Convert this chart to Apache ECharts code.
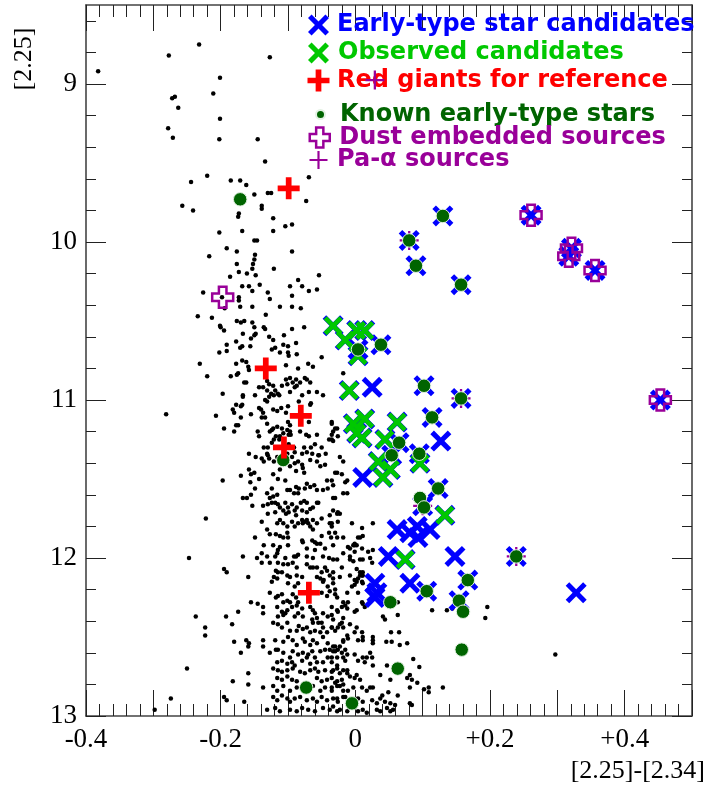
<!DOCTYPE html>
<html>
<head>
<meta charset="utf-8">
<script src="https://cdn.jsdelivr.net/npm/echarts@6/dist/echarts.min.js"></script>
<style>
html, body { margin: 0; padding: 0; background: #fff; }
#chart { width: 728px; height: 787px; }
</style>
</head>
<body>
<div id="chart"></div>
<script>
// Colour-magnitude diagram: [2.25]-[2.34] colour vs [2.25] magnitude
const fieldStars = [
[-0.382,8.92],[-0.232,8.75],[-0.277,8.82],[-0.127,8.83],[-0.201,8.96],[-0.211,9.06],[-0.272,9.09],[-0.268,9.08],[-0.263,9.15],[-0.201,9.22],
[-0.278,9.28],[-0.271,9.34],[-0.202,9.35],[-0.145,9.35],[-0.134,9.49],[-0.069,9.59],[-0.220,9.58],[-0.244,9.62],[-0.185,9.61],[-0.171,9.61],
[-0.162,9.64],[-0.150,9.70],[-0.130,9.69],[-0.125,9.69],[-0.073,9.74],[-0.257,9.77],[-0.241,9.80],[-0.139,9.77],[-0.139,9.79],[-0.173,9.82],
[-0.174,9.84],[-0.122,9.85],[-0.104,9.90],[-0.094,9.89],[-0.202,9.94],[-0.168,9.93],[-0.122,9.93],[-0.150,9.99],[-0.146,9.99],[-0.191,10.04],
[-0.217,10.09],[-0.176,10.06],[-0.149,10.08],[-0.094,10.06],[-0.150,10.11],[-0.152,10.14],[-0.153,10.17],[-0.176,10.14],[-0.121,10.17],[-0.054,10.21],
[-0.186,10.22],[-0.173,10.19],[-0.161,10.20],[-0.148,10.21],[-0.085,10.24],[-0.226,10.32],[-0.198,10.35],[-0.168,10.28],[-0.158,10.28],[-0.153,10.31],
[-0.142,10.27],[-0.130,10.32],[-0.097,10.28],[-0.079,10.28],[-0.069,10.31],[-0.057,10.30],[-0.173,10.35],[-0.173,10.37],[-0.127,10.36],[-0.094,10.34],
[-0.234,10.47],[-0.213,10.48],[-0.194,10.42],[-0.171,10.41],[-0.153,10.41],[-0.112,10.41],[-0.094,10.41],[-0.081,10.42],[-0.133,10.46],[-0.201,10.53],
[-0.195,10.56],[-0.200,10.54],[-0.176,10.50],[-0.170,10.51],[-0.165,10.50],[-0.153,10.51],[-0.150,10.54],[-0.134,10.55],[-0.136,10.54],[-0.094,10.55],
[-0.076,10.54],[-0.167,10.58],[-0.148,10.58],[-0.150,10.59],[-0.155,10.61],[-0.128,10.60],[-0.106,10.59],[-0.191,10.65],[-0.171,10.67],[-0.168,10.66],
[-0.156,10.66],[-0.122,10.62],[-0.107,10.65],[-0.088,10.64],[-0.202,10.70],[-0.191,10.69],[-0.177,10.63],[-0.124,10.68],[-0.119,10.67],[-0.112,10.70],
[-0.100,10.66],[-0.099,10.72],[-0.100,10.70],[-0.087,10.71],[-0.050,10.73],[-0.231,10.77],[-0.177,10.77],[-0.168,10.75],[-0.162,10.76],[-0.159,10.79],
[-0.158,10.81],[-0.103,10.78],[-0.085,10.80],[-0.070,10.77],[-0.063,10.79],[-0.220,10.85],[-0.185,10.85],[-0.174,10.83],[-0.176,10.84],[-0.165,10.89],
[-0.162,10.89],[-0.131,10.88],[-0.128,10.90],[-0.122,10.91],[-0.109,10.91],[-0.103,10.87],[-0.097,10.86],[-0.088,10.87],[-0.082,10.89],[-0.075,10.86],
[-0.072,10.87],[-0.067,10.89],[-0.101,10.90],[-0.093,10.89],[-0.090,10.92],[-0.087,10.91],[-0.143,10.92],[-0.137,10.92],[-0.131,10.94],[-0.125,10.96],
[-0.119,10.94],[-0.115,10.96],[-0.113,10.97],[-0.121,10.97],[-0.128,10.98],[-0.134,11.00],[-0.131,11.01],[-0.197,10.96],[-0.167,10.97],[-0.167,10.98],
[-0.149,10.97],[-0.097,10.95],[-0.079,10.97],[-0.069,10.95],[-0.057,10.95],[-0.048,10.97],[-0.066,11.02],[-0.067,11.03],[-0.084,11.01],[-0.177,11.03],
[-0.170,11.04],[-0.168,11.03],[-0.182,11.06],[-0.180,11.08],[-0.143,11.05],[-0.140,11.06],[-0.137,11.08],[-0.134,11.11],[-0.139,11.11],[-0.155,11.09],
[-0.207,11.10],[-0.110,11.05],[-0.100,11.04],[-0.103,11.08],[-0.122,11.06],[-0.116,11.07],[-0.170,11.11],[-0.174,11.16],[-0.177,11.16],[-0.195,11.18],
[-0.180,11.20],[-0.131,11.15],[-0.127,11.20],[-0.124,11.19],[-0.122,11.18],[-0.116,11.17],[-0.109,11.18],[-0.107,11.21],[-0.112,11.23],[-0.118,11.23],
[-0.113,11.25],[-0.100,11.14],[-0.097,11.16],[-0.101,11.19],[-0.097,11.20],[-0.099,11.22],[-0.096,11.22],[-0.082,11.20],[-0.069,11.14],[-0.073,11.22],
[-0.069,11.23],[-0.057,11.22],[-0.035,11.15],[-0.033,11.20],[-0.035,11.22],[-0.027,11.18],[-0.039,11.25],[-0.033,11.26],[-0.145,11.20],[-0.143,11.23],
[-0.136,11.30],[-0.130,11.30],[-0.121,11.25],[-0.124,11.27],[-0.099,11.28],[-0.091,11.30],[-0.076,11.30],[-0.066,11.30],[-0.050,11.30],[-0.060,11.28],
[-0.281,11.09],[-0.158,11.34],[-0.148,11.36],[-0.139,11.37],[-0.136,11.39],[-0.131,11.34],[-0.130,11.35],[-0.128,11.37],[-0.121,11.39],[-0.116,11.36],
[-0.101,11.34],[-0.094,11.36],[-0.090,11.33],[-0.079,11.34],[-0.072,11.33],[-0.064,11.34],[-0.055,11.35],[-0.054,11.35],[-0.044,11.34],[-0.067,11.38],
[-0.057,11.39],[-0.052,11.42],[-0.045,11.41],[-0.097,11.42],[-0.090,11.40],[-0.085,11.39],[-0.079,11.41],[-0.078,11.43],[-0.018,11.39],[-0.158,11.44],
[-0.155,11.47],[-0.150,11.46],[-0.143,11.50],[-0.170,11.48],[-0.197,11.51],[-0.122,11.47],[-0.112,11.44],[-0.115,11.50],[-0.088,11.45],[-0.076,11.46],
[-0.104,11.51],[-0.072,11.53],[-0.075,11.56],[-0.067,11.55],[-0.061,11.54],[-0.042,11.51],[-0.035,11.51],[-0.030,11.46],[-0.020,11.47],[-0.012,11.51],
[-0.156,11.52],[-0.149,11.56],[-0.124,11.56],[-0.101,11.57],[-0.097,11.57],[-0.088,11.55],[-0.084,11.56],[-0.091,11.59],[-0.085,11.59],[-0.057,11.57],
[-0.048,11.57],[-0.041,11.56],[-0.033,11.54],[-0.018,11.59],[-0.012,11.59],[-0.155,11.60],[-0.161,11.62],[-0.167,11.62],[-0.131,11.59],[-0.127,11.62],
[-0.122,11.61],[-0.116,11.60],[-0.033,11.62],[-0.153,11.67],[-0.137,11.67],[-0.130,11.66],[-0.124,11.65],[-0.119,11.65],[-0.115,11.66],[-0.112,11.68],
[-0.104,11.65],[-0.100,11.68],[-0.094,11.66],[-0.087,11.68],[-0.081,11.65],[-0.076,11.64],[-0.072,11.65],[-0.057,11.65],[-0.055,11.65],[-0.119,11.71],
[-0.107,11.70],[-0.103,11.72],[-0.099,11.71],[-0.090,11.70],[-0.088,11.73],[-0.079,11.70],[-0.072,11.71],[-0.067,11.69],[-0.063,11.68],[-0.130,11.72],
[-0.222,11.75],[-0.139,11.77],[-0.112,11.76],[-0.107,11.78],[-0.094,11.77],[-0.085,11.78],[-0.079,11.76],[-0.075,11.77],[-0.072,11.76],[-0.063,11.76],
[-0.057,11.78],[-0.050,11.75],[-0.038,11.73],[-0.027,11.72],[-0.026,11.71],[-0.116,11.78],[-0.101,11.80],[-0.090,11.80],[-0.078,11.78],[-0.070,11.78],
[-0.067,11.80],[-0.063,11.82],[-0.038,11.78],[-0.035,11.78],[-0.005,11.78],[-0.131,11.82],[-0.101,11.84],[-0.127,11.85],[-0.118,11.85],[-0.112,11.86],
[-0.107,11.87],[-0.100,11.87],[-0.149,11.87],[-0.079,11.89],[-0.078,11.90],[-0.064,11.89],[-0.060,11.90],[-0.057,11.91],[-0.052,11.91],[-0.050,11.86],
[-0.039,11.84],[-0.036,11.87],[-0.027,11.87],[-0.018,11.87],[-0.136,11.92],[-0.122,11.92],[-0.100,11.92],[-0.072,11.94],[-0.060,11.95],[-0.045,11.94],
[-0.033,11.92],[-0.008,11.94],[-0.003,11.92],[-0.001,11.91],[-0.167,11.99],[-0.146,12.00],[-0.139,11.97],[-0.131,11.99],[-0.119,11.99],[-0.115,11.95],
[-0.112,11.93],[-0.116,11.97],[-0.104,12.00],[-0.091,11.99],[-0.088,11.99],[-0.085,11.98],[-0.072,11.99],[-0.063,12.00],[-0.048,11.99],[-0.039,12.00],
[-0.033,12.01],[-0.027,12.01],[-0.018,11.97],[-0.008,12.01],[-0.003,12.02],[-0.247,12.00],[-0.139,12.03],[-0.127,12.03],[-0.115,12.03],[-0.107,12.04],
[-0.100,12.04],[-0.093,12.03],[-0.087,12.06],[-0.072,12.04],[-0.067,12.06],[-0.063,12.06],[-0.057,12.06],[-0.045,12.06],[-0.042,12.08],[-0.050,12.09],
[-0.195,12.07],[-0.191,12.09],[-0.118,12.08],[-0.115,12.09],[-0.109,12.09],[-0.101,12.11],[-0.097,12.12],[-0.087,12.11],[-0.079,12.12],[-0.159,12.12],
[-0.121,12.12],[-0.116,12.13],[-0.124,12.15],[-0.057,12.12],[-0.052,12.13],[-0.047,12.14],[-0.038,12.11],[-0.033,12.13],[-0.023,12.12],[-0.008,12.11],
[-0.001,12.14],[0.007,12.11],[-0.100,12.16],[-0.090,12.18],[-0.085,12.16],[-0.048,12.15],[-0.041,12.18],[-0.033,12.16],[-0.005,12.18],[-0.127,12.22],
[-0.118,12.25],[-0.115,12.24],[-0.109,12.23],[-0.107,12.28],[-0.101,12.27],[-0.097,12.28],[-0.093,12.23],[-0.088,12.25],[-0.085,12.28],[-0.050,12.22],
[-0.042,12.24],[-0.038,12.21],[-0.030,12.23],[-0.155,12.28],[-0.145,12.29],[-0.137,12.31],[-0.137,12.35],[-0.174,12.34],[-0.192,12.37],[-0.237,12.37],
[-0.116,12.31],[-0.109,12.34],[-0.104,12.35],[-0.101,12.33],[-0.107,12.36],[-0.115,12.37],[-0.094,12.31],[-0.087,12.30],[-0.079,12.32],[-0.085,12.35],
[-0.090,12.37],[-0.078,12.37],[-0.067,12.31],[-0.063,12.33],[-0.060,12.35],[-0.057,12.38],[-0.064,12.39],[-0.063,12.41],[-0.055,12.41],[-0.050,12.41],
[-0.048,12.35],[-0.041,12.37],[-0.035,12.36],[-0.027,12.33],[-0.020,12.31],[-0.015,12.30],[-0.012,12.32],[-0.018,12.38],[-0.020,12.41],[-0.223,12.44],
[-0.223,12.49],[-0.183,12.42],[-0.122,12.41],[-0.115,12.42],[-0.109,12.44],[-0.101,12.41],[-0.097,12.46],[-0.087,12.46],[-0.084,12.43],[-0.078,12.45],
[-0.072,12.44],[-0.067,12.47],[-0.060,12.46],[-0.052,12.47],[-0.048,12.44],[-0.042,12.47],[-0.035,12.44],[-0.030,12.46],[-0.026,12.44],[-0.018,12.44],
[-0.180,12.53],[-0.162,12.52],[-0.158,12.54],[-0.159,12.56],[-0.137,12.52],[-0.137,12.56],[-0.119,12.52],[-0.107,12.53],[-0.100,12.50],[-0.093,12.52],
[-0.087,12.55],[-0.078,12.51],[-0.075,12.53],[-0.067,12.55],[-0.063,12.52],[-0.057,12.54],[-0.048,12.50],[-0.041,12.54],[-0.033,12.56],[-0.023,12.56],
[-0.018,12.53],[-0.011,12.51],[-0.170,12.60],[-0.127,12.60],[-0.118,12.58],[-0.115,12.58],[-0.107,12.60],[-0.097,12.63],[-0.093,12.59],[-0.085,12.61],
[-0.078,12.60],[-0.070,12.61],[-0.064,12.59],[-0.060,12.63],[-0.052,12.59],[-0.045,12.58],[-0.038,12.58],[-0.030,12.59],[-0.026,12.58],[-0.116,12.66],
[-0.109,12.65],[-0.101,12.67],[-0.094,12.66],[-0.090,12.68],[-0.079,12.65],[-0.072,12.63],[-0.067,12.67],[-0.057,12.66],[-0.048,12.66],[-0.041,12.63],
[-0.035,12.66],[-0.027,12.63],[-0.018,12.63],[-0.012,12.61],[-0.250,12.70],[-0.122,12.70],[-0.115,12.71],[-0.109,12.72],[-0.101,12.71],[-0.093,12.70],
[-0.082,12.72],[-0.075,12.73],[-0.067,12.71],[-0.060,12.70],[-0.055,12.72],[-0.045,12.71],[-0.035,12.72],[-0.027,12.70],[-0.018,12.71],[-0.012,12.73],
[-0.159,12.73],[-0.182,12.78],[-0.116,12.76],[-0.109,12.77],[-0.101,12.75],[-0.094,12.77],[-0.087,12.78],[-0.057,12.76],[-0.050,12.78],[-0.042,12.77],
[-0.035,12.76],[-0.027,12.78],[-0.020,12.77],[-0.159,12.80],[-0.137,12.82],[-0.122,12.81],[-0.116,12.84],[-0.107,12.81],[-0.097,12.84],[-0.087,12.82],
[-0.063,12.81],[-0.052,12.84],[-0.045,12.82],[-0.035,12.84],[-0.027,12.81],[-0.018,12.84],[-0.274,12.89],[-0.195,12.88],[-0.191,12.90],[-0.165,12.91],
[-0.122,12.88],[-0.116,12.90],[-0.109,12.87],[-0.101,12.89],[-0.097,12.91],[-0.090,12.89],[-0.082,12.88],[-0.072,12.90],[-0.063,12.89],[-0.057,12.91],
[-0.050,12.88],[-0.042,12.90],[-0.033,12.89],[-0.026,12.91],[-0.018,12.88],[-0.298,12.96],[-0.131,12.96],[-0.119,12.95],[-0.112,12.97],[-0.097,12.96],
[-0.087,12.97],[-0.079,12.95],[-0.070,12.96],[-0.060,12.97],[-0.048,12.95],[-0.038,12.96],[-0.027,12.97],
[0.004,12.13],[0.010,12.11],[0.011,12.09],[-0.001,12.17],[-0.027,12.25],[-0.018,12.28],[-0.011,12.28],[-0.026,12.34],[-0.035,12.31],[0.002,12.33],
[-0.001,12.34],[0.010,12.28],[0.014,12.31],[0.041,12.37],[0.044,12.39],[0.063,12.36],[0.063,12.28],[0.114,12.33],[0.136,12.33],[0.144,12.32],
[-0.033,12.39],[-0.023,12.42],[-0.035,12.44],[-0.008,12.42],[0.002,12.44],[-0.001,12.47],[0.010,12.47],[0.011,12.50],[0.011,12.52],[0.004,12.52],
[-0.012,12.49],[-0.018,12.52],[0.026,12.50],[0.026,12.52],[0.026,12.54],[0.053,12.47],[0.065,12.47],[0.066,12.55],[0.077,12.54],[0.046,12.53],[0.054,12.53],
[-0.030,12.56],[-0.033,12.59],[-0.035,12.63],[-0.020,12.60],[-0.015,12.58],[-0.015,12.65],[-0.001,12.61],[0.004,12.65],[0.011,12.63],[0.017,12.63],
[0.025,12.63],[0.022,12.60],[0.014,12.66],[0.026,12.68],[0.047,12.68],[0.086,12.64],[0.095,12.69],
[-0.027,12.68],[-0.033,12.71],[-0.023,12.73],[-0.012,12.71],[-0.008,12.75],[-0.001,12.76],[0.002,12.74],[0.007,12.77],[0.037,12.74],[0.052,12.77],
[0.077,12.76],[0.081,12.74],[0.084,12.77],
[-0.030,12.79],[-0.035,12.82],[-0.023,12.81],[-0.018,12.80],[-0.011,12.84],[-0.003,12.82],[0.010,12.82],[0.017,12.84],[0.022,12.82],[0.026,12.82],
[0.040,12.87],[0.049,12.85],[0.063,12.87],[0.081,12.82],[0.092,12.79],[0.102,12.83],[0.109,12.82],[0.109,12.85],[0.130,12.82],
[-0.027,12.89],[-0.015,12.88],[0.004,12.89],[0.011,12.91],[0.025,12.90],[0.032,12.92],[0.037,12.89],[0.044,12.91],[0.052,12.92],[0.059,12.93],
[0.081,12.92],[0.084,12.93],
[-0.033,12.94],[-0.023,12.96],[-0.012,12.97],[0.004,12.97],[0.011,12.96],[0.017,12.98],[0.032,12.96],[0.037,12.97],[0.047,12.95],[0.052,12.97],[0.056,12.96],
[0.010,11.81],[0.007,11.87],[0.011,11.86],[0.026,11.78],[0.002,11.92],[-0.001,11.96],[0.007,12.01],[0.011,12.01],[0.025,12.03],[0.019,11.96],
[0.002,12.07],[0.007,12.09],[0.011,12.11],[0.010,12.15],[0.011,12.29],
[-0.018,10.83],[-0.035,11.14],[-0.030,11.18],[-0.026,11.23],[-0.035,11.25],[-0.023,11.36],[-0.027,11.46],[-0.015,11.52],[-0.030,11.62],[-0.033,11.70],
[-0.023,11.72],[-0.026,11.77],[-0.035,11.80],[-0.030,11.84],[0.004,11.87],[-0.011,11.93],[-0.001,11.92],[0.010,11.94],[0.026,11.95],[0.022,12.00],
[-0.008,11.99],[-0.020,12.06],[-0.033,12.09],[0.002,12.15],[0.011,12.16],[-0.030,12.20],[-0.012,12.22],[0.004,12.22],
[0.297,12.61],[0.196,12.31],[0.193,12.38]
];

const earlyTypeCandidates = [
[0.130,9.835],[0.261,9.83],[0.080,9.99],[0.090,10.15],[0.321,10.04],[0.317,10.09],[0.356,10.18],[0.157,10.27],[0.453,11.00],
[0.004,10.68],[0.038,10.65],[0.025,10.92],[0.102,10.91],[0.157,10.99],[0.114,11.11],[0.127,11.26],[0.065,11.27],[0.054,11.35],
[0.095,11.34],[0.011,11.49],[0.123,11.56],[0.100,11.67],[0.062,11.82],[0.081,11.84],[0.093,11.87],[0.111,11.82],[0.092,11.80],
[0.049,11.99],[0.148,11.99],[0.081,12.16],[0.029,12.16],[0.032,12.22],[0.029,12.25],[0.106,12.21],[0.167,12.14],[0.154,12.27],
[0.239,11.99],[0.328,12.22]
];

const observedCandidates = [
[-0.033,10.53],[-0.015,10.62],[0.002,10.56],[0.014,10.56],[0.004,10.72],[-0.009,10.94],[-0.003,11.15],[0.014,11.12],[0.010,11.24],
[0.002,11.21],[0.062,11.14],[0.044,11.25],[0.096,11.40],[0.034,11.39],[0.052,11.44],[0.041,11.49],[0.133,11.73],[0.074,12.01]
];

const redGiants = [[-0.099,9.66],[-0.133,10.80],[-0.081,11.10],[-0.106,11.30],[-0.069,12.22]];

const knownEarlyType = [
[0.130,9.835],[0.080,9.99],[0.090,10.15],[0.157,10.27],[0.004,10.68],[0.038,10.65],[0.102,10.91],[0.157,10.99],[0.114,11.11],
[0.065,11.27],[0.054,11.35],[0.095,11.34],[0.123,11.56],[0.096,11.62],[0.102,11.68],[0.106,12.21],[0.167,12.14],[0.154,12.27],
[0.160,12.34],[0.239,11.99],[0.052,12.28],[0.158,12.58],[0.063,12.70],[-0.073,12.82],[-0.005,12.92],[-0.171,9.73],[-0.107,11.38]
];

const dustEmbedded = [[0.261,9.83],[0.321,10.04],[0.317,10.09],[0.356,10.18],[0.453,11.00],[-0.197,10.35]];

const paAlphaSources = [[0.080,9.99],[0.157,10.99],[0.100,11.67],[0.239,11.99],[0.029,8.975]];

const xLabelValues = [-0.4, -0.2, 0, 0.2, 0.4];
const xTickLabels = ['-0.4', '-0.2', '0', '+0.2', '+0.4'];
const yLabelValues = [9, 10, 11, 12, 13];
const yTickLabels = ['9', '10', '11', '12', '13'];
const yMinorTicks = [8.6, 8.8, 9.2, 9.4, 9.6, 9.8, 10.2, 10.4, 10.6, 10.8, 11.2, 11.4, 11.6, 11.8, 12.2, 12.4, 12.6, 12.8];

// marker shapes
const SYM_X = 'path://M0,17L17,0L50,33L83,0L100,17L67,50L100,83L83,100L50,67L17,100L0,83L33,50Z';
const SYM_BOLD_PLUS = 'path://M37,0H63V37H100V63H63V100H37V63H0V37H37Z';
const SYM_OPEN_CROSS = 'path://M32,0H68V32H100V68H68V100H32V68H0V32H32Z';
const SYM_THIN_PLUS = 'path://M44,0H56V44H100V56H56V100H44V56H0V44H44Z';

const BLUE = '#0000ff', LIME = '#00c800', RED = '#ff0000', DKGREEN = '#006400', PURPLE = '#990099';
const SERIF = '"Liberation Serif", "Times New Roman", serif';
const SANS = '"DejaVu Sans", Verdana, sans-serif';

function labelFor(values, labels) {
  return function (v) {
    for (let i = 0; i < values.length; i++) {
      if (Math.abs(values[i] - v) < 1e-6) return labels[i];
    }
    return '';
  };
}

function legendRow(name, centreY, size, color, fontSize, textLeft, iconCx) {
  const left = iconCx - size / 2;
  return {
    data: [name], left: left, top: centreY - 13, padding: 0, z: 1,
    selectedMode: false, itemWidth: size, itemHeight: size,
    textStyle: {
      color: color, fontFamily: SANS, fontWeight: 'bold', fontSize: fontSize, lineHeight: 26,
      padding: [0, 0, 0, textLeft - (left + size + 5)]
    }
  };
}

const frameLine = { color: '#444', width: 1.6 };
const tickLine = { color: '#222', width: 1 };
const solid = { opacity: 1 };

const chart = echarts.init(document.getElementById('chart'), null, { renderer: 'canvas' });
chart.setOption({
  animation: false,
  backgroundColor: '#fff',
  grid: { left: 86, right: 36, top: 5, bottom: 71, containLabel: false },
  xAxis: [
    {
      type: 'value', position: 'bottom', min: -0.4, max: 0.5, interval: 0.1,
      axisLine: { onZero: false, lineStyle: frameLine },
      axisTick: { inside: true, length: 26, lineStyle: tickLine },
      minorTick: { show: true, splitNumber: 5, length: 12, lineStyle: tickLine },
      splitLine: { show: false }, minorSplitLine: { show: false },
      axisLabel: {
        customValues: xLabelValues, formatter: labelFor(xLabelValues, xTickLabels),
        margin: 10, fontFamily: SERIF, fontSize: 27, color: '#000'
      }
    },
    {
      type: 'value', position: 'top', min: -0.4, max: 0.5, interval: 0.1,
      axisLine: { onZero: false, lineStyle: frameLine },
      axisTick: { inside: true, length: 26, lineStyle: tickLine },
      minorTick: { show: true, splitNumber: 5, length: 12, lineStyle: tickLine },
      splitLine: { show: false }, minorSplitLine: { show: false },
      axisLabel: { show: false }
    }
  ],
  yAxis: [
    {
      type: 'value', position: 'left', inverse: true, min: 8.5, max: 13,
      axisLine: { onZero: false, lineStyle: frameLine },
      axisTick: { inside: true, length: 20, customValues: yLabelValues, lineStyle: tickLine },
      splitLine: { show: false },
      axisLabel: {
        customValues: yLabelValues, formatter: labelFor(yLabelValues, yTickLabels),
        margin: 9, fontFamily: SERIF, fontSize: 27, color: '#000'
      }
    },
    {
      type: 'value', position: 'left', inverse: true, min: 8.5, max: 13,
      axisLine: { show: false, onZero: false },
      axisTick: { inside: true, length: 10, customValues: yMinorTicks, lineStyle: tickLine },
      splitLine: { show: false }, axisLabel: { show: false }
    },
    {
      type: 'value', position: 'right', inverse: true, min: 8.5, max: 13,
      axisLine: { onZero: false, lineStyle: frameLine },
      axisTick: { inside: true, length: 20, customValues: yLabelValues, lineStyle: tickLine },
      splitLine: { show: false }, axisLabel: { show: false }
    },
    {
      type: 'value', position: 'right', inverse: true, min: 8.5, max: 13,
      axisLine: { show: false, onZero: false },
      axisTick: { inside: true, length: 10, customValues: yMinorTicks, lineStyle: tickLine },
      splitLine: { show: false }, axisLabel: { show: false }
    }
  ],
  legend: [
    Object.assign(legendRow('Early-type star candidates', 25, 21, BLUE, 24, 337, 318.5), { icon: SYM_X }),
    Object.assign(legendRow('Observed candidates', 53, 21, LIME, 24, 338, 318.5), { icon: SYM_X }),
    Object.assign(legendRow('Red giants for reference', 80.5, 22, RED, 24, 337, 318.5), { icon: SYM_BOLD_PLUS }),
    Object.assign(legendRow('Known early-type stars', 114.5, 9, DKGREEN, 24, 339, 319.5), { icon: 'circle' }),
    Object.assign(legendRow('Dust embedded sources', 137.5, 20, PURPLE, 24, 338, 318.5),
      { icon: SYM_OPEN_CROSS, itemStyle: { color: 'rgba(0,0,0,0)', borderColor: PURPLE, borderWidth: 2.5, opacity: 1 } }),
    Object.assign(legendRow('Pa-\u03b1 sources', 160, 18, PURPLE, 24, 337, 318.5), { icon: SYM_THIN_PLUS })
  ],
  graphic: [
    {
      type: 'text', x: 24, y: 59, rotation: Math.PI / 2,
      style: { text: '[2.25]', fontFamily: SERIF, fontSize: 26, fill: '#000', align: 'center', verticalAlign: 'middle' }
    },
    {
      type: 'text', x: 705, y: 771,
      style: { text: '[2.25]-[2.34]', fontFamily: SERIF, fontSize: 26, fill: '#000', align: 'right', verticalAlign: 'middle' }
    }
  ],
  series: [
    {
      type: 'scatter', name: 'Field stars', data: fieldStars, symbol: 'circle', symbolSize: 4.5,
      itemStyle: { color: '#000', opacity: 1 }, silent: true
    },
    {
      type: 'scatter', name: 'Early-type star candidates', data: earlyTypeCandidates.concat(observedCandidates),
      symbol: SYM_X, symbolSize: 21, itemStyle: { color: BLUE, opacity: 1 }, silent: true
    },
    {
      type: 'scatter', name: 'Observed candidates', data: observedCandidates,
      symbol: SYM_X, symbolSize: 19, itemStyle: { color: LIME, opacity: 1 }, silent: true
    },
    {
      type: 'scatter', name: 'Pa-\u03b1 sources', data: paAlphaSources,
      symbol: SYM_THIN_PLUS, symbolSize: 19, itemStyle: { color: PURPLE, opacity: 1 }, silent: true
    },
    {
      type: 'scatter', name: 'Known early-type stars', data: knownEarlyType,
      symbol: 'circle', symbolSize: 13.5,
      itemStyle: { color: DKGREEN, borderColor: '#e4f2e4', borderWidth: 1, opacity: 1 }, silent: true
    },
    {
      type: 'scatter', name: 'Red giants for reference', data: redGiants,
      symbol: SYM_BOLD_PLUS, symbolSize: 22, itemStyle: { color: RED, opacity: 1 }, silent: true
    },
    {
      type: 'scatter', name: 'Dust embedded sources', data: dustEmbedded,
      symbol: SYM_OPEN_CROSS, symbolSize: 21,
      itemStyle: { color: 'rgba(0,0,0,0)', borderColor: PURPLE, borderWidth: 2.5, opacity: 1 }, silent: true
    }
  ]
});
</script>
</body>
</html>
